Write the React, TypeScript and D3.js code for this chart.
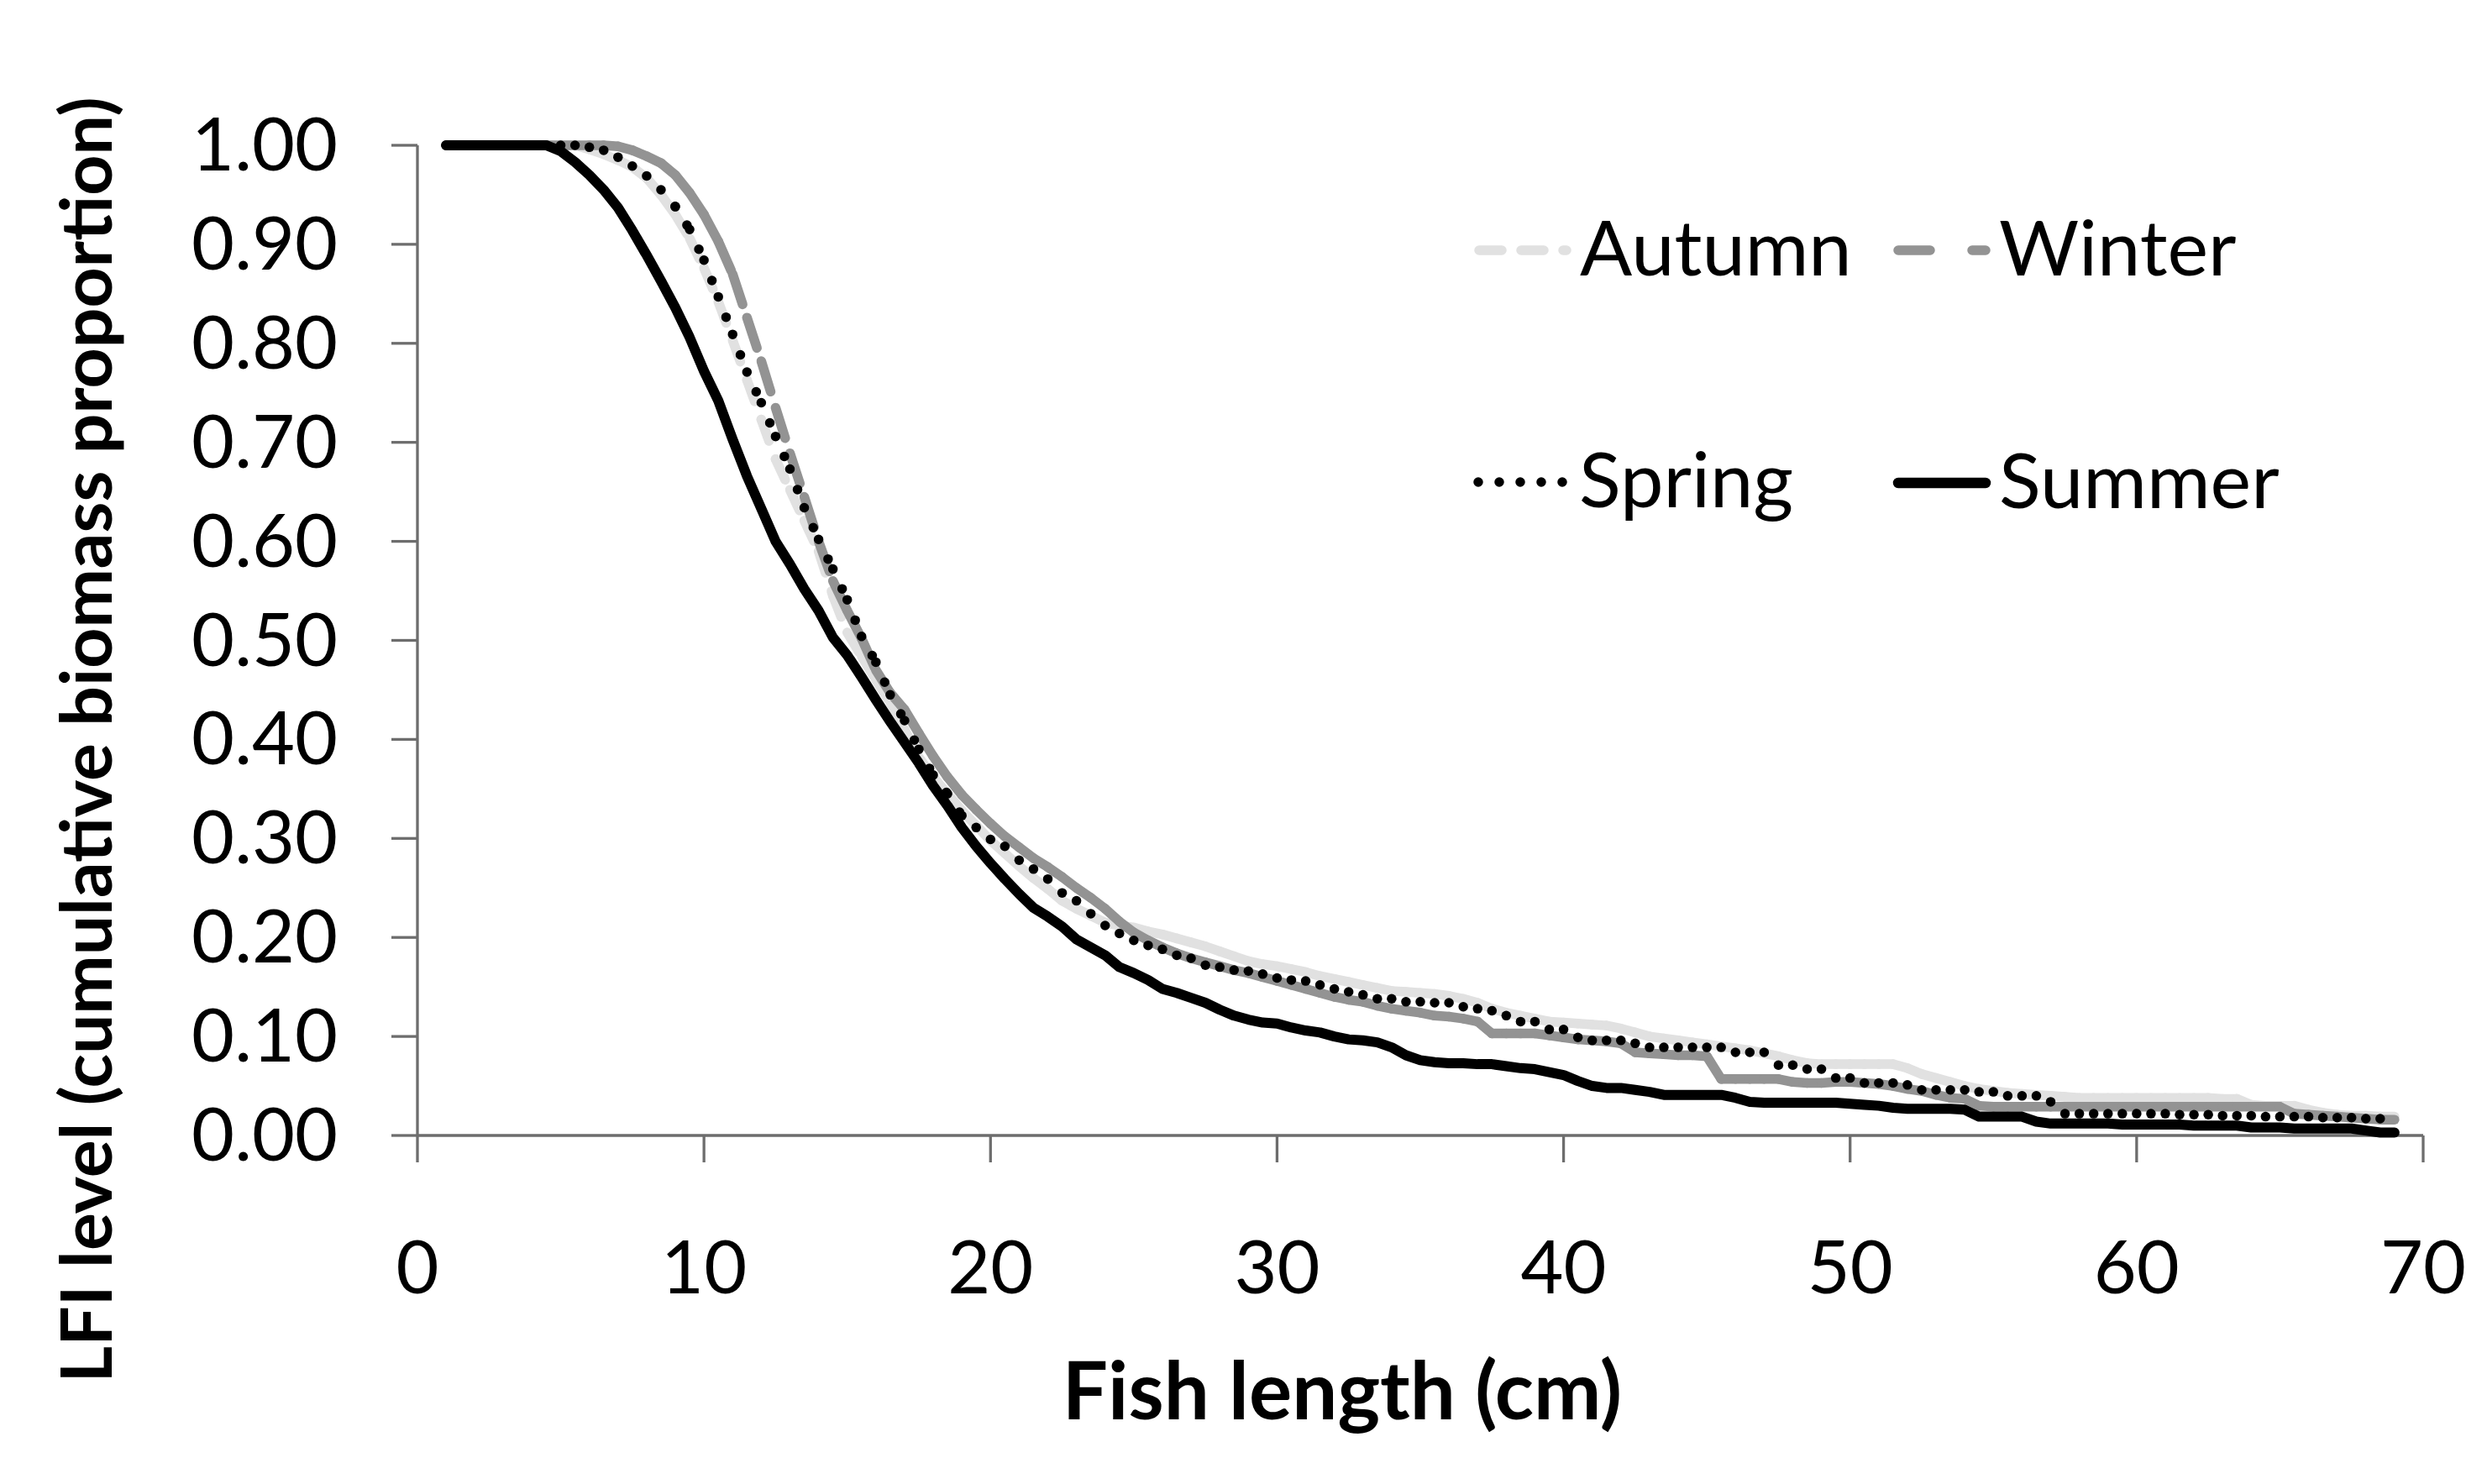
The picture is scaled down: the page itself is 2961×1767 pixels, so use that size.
import * as d3 from 'd3';
import React from 'react';

// fish length classes (cm), 0.5 cm steps from 1 to 69
const lengths = d3.range(1, 69.25, 0.5);

// cumulative biomass proportion per season, one value per length class
const autumn = [
  1, 1, 1, 1, 1, 1, 1, 1, 1, 1,
  0.996, 0.991, 0.985, 0.978, 0.967, 0.950, 0.930, 0.906, 0.876, 0.842,
  0.803, 0.763, 0.723, 0.683, 0.652, 0.621, 0.590, 0.545, 0.508, 0.484,
  0.460, 0.437, 0.410, 0.382, 0.362, 0.345, 0.328, 0.313, 0.298, 0.285,
  0.272, 0.260, 0.249, 0.237, 0.229, 0.222, 0.215, 0.212, 0.210, 0.206,
  0.203, 0.199, 0.195, 0.191, 0.186, 0.181, 0.176, 0.173, 0.171, 0.168,
  0.165, 0.161, 0.158, 0.155, 0.152, 0.149, 0.146, 0.145, 0.144, 0.143,
  0.141, 0.138, 0.134, 0.128, 0.124, 0.121, 0.118, 0.115, 0.114, 0.113,
  0.112, 0.111, 0.108, 0.104, 0.100, 0.098, 0.096, 0.094, 0.092, 0.090,
  0.088, 0.086, 0.083, 0.080, 0.076, 0.073, 0.072, 0.072, 0.072, 0.072,
  0.072, 0.072, 0.068, 0.062, 0.058, 0.054, 0.050, 0.047, 0.045, 0.043,
  0.042, 0.041, 0.040, 0.039, 0.038, 0.038, 0.038, 0.038, 0.038, 0.038,
  0.038, 0.038, 0.038, 0.038, 0.037, 0.037, 0.031, 0.030, 0.030, 0.030,
  0.026, 0.023, 0.021, 0.020, 0.020, 0.019, 0.019,
];

const winter = [
  1, 1, 1, 1, 1, 1, 1, 1, 1, 1,
  1, 1, 0.999, 0.995, 0.989, 0.982, 0.970, 0.952, 0.930, 0.903,
  0.870, 0.826, 0.782, 0.735, 0.689, 0.645, 0.600, 0.560, 0.530, 0.502,
  0.470, 0.447, 0.430, 0.406, 0.383, 0.362, 0.344, 0.329, 0.315, 0.302,
  0.291, 0.280, 0.271, 0.261, 0.250, 0.240, 0.229, 0.216, 0.205, 0.197,
  0.190, 0.184, 0.179, 0.175, 0.171, 0.167, 0.164, 0.160, 0.156, 0.152,
  0.148, 0.144, 0.140, 0.137, 0.135, 0.131, 0.128, 0.126, 0.124, 0.121,
  0.120, 0.118, 0.115, 0.103, 0.103, 0.103, 0.103, 0.101, 0.099, 0.097,
  0.096, 0.095, 0.093, 0.084, 0.083, 0.082, 0.081, 0.081, 0.080, 0.057,
  0.057, 0.057, 0.057, 0.057, 0.054, 0.053, 0.053, 0.054, 0.054, 0.053,
  0.052, 0.050, 0.047, 0.045, 0.041, 0.038, 0.037, 0.030, 0.029, 0.029,
  0.029, 0.029, 0.029, 0.029, 0.029, 0.029, 0.029, 0.029, 0.029, 0.029,
  0.029, 0.029, 0.029, 0.029, 0.029, 0.029, 0.029, 0.029, 0.029, 0.022,
  0.021, 0.020, 0.019, 0.018, 0.017, 0.016, 0.016,
];

const spring = [
  1, 1, 1, 1, 1, 1, 1, 1, 1, 1,
  0.998, 0.995, 0.988, 0.979, 0.969, 0.955, 0.938, 0.915, 0.884, 0.847,
  0.809, 0.771, 0.740, 0.706, 0.673, 0.634, 0.602, 0.572, 0.541, 0.504,
  0.478, 0.445, 0.419, 0.390, 0.364, 0.345, 0.323, 0.311, 0.299, 0.292,
  0.278, 0.269, 0.259, 0.245, 0.237, 0.224, 0.212, 0.204, 0.197, 0.192,
  0.188, 0.182, 0.179, 0.172, 0.170, 0.167, 0.166, 0.163, 0.159, 0.157,
  0.156, 0.152, 0.148, 0.145, 0.142, 0.138, 0.138, 0.135, 0.135, 0.134,
  0.134, 0.130, 0.128, 0.126, 0.121, 0.115, 0.115, 0.107, 0.107, 0.099,
  0.096, 0.096, 0.096, 0.093, 0.089, 0.089, 0.089, 0.089, 0.089, 0.089,
  0.084, 0.084, 0.084, 0.071, 0.071, 0.067, 0.067, 0.058, 0.058, 0.053,
  0.053, 0.053, 0.051, 0.046, 0.046, 0.046, 0.046, 0.044, 0.044, 0.040,
  0.040, 0.040, 0.034, 0.022, 0.022, 0.022, 0.022, 0.022, 0.022, 0.022,
  0.022, 0.021, 0.021, 0.021, 0.020, 0.020, 0.020, 0.019, 0.019, 0.019,
  0.019, 0.018, 0.018, 0.018, 0.017, 0.017, 0.017,
];

const summer = [
  1, 1, 1, 1, 1, 1, 1, 1, 0.994, 0.983,
  0.970, 0.955, 0.937, 0.914, 0.889, 0.863, 0.836, 0.806, 0.772, 0.742,
  0.703, 0.666, 0.633, 0.600, 0.577, 0.552, 0.530, 0.503, 0.485, 0.463,
  0.440, 0.418, 0.397, 0.376, 0.353, 0.333, 0.311, 0.292, 0.275, 0.259,
  0.244, 0.230, 0.221, 0.211, 0.198, 0.190, 0.182, 0.170, 0.164, 0.157,
  0.148, 0.144, 0.139, 0.134, 0.127, 0.121, 0.117, 0.114, 0.113, 0.109,
  0.106, 0.104, 0.100, 0.097, 0.096, 0.094, 0.089, 0.081, 0.076, 0.074,
  0.073, 0.073, 0.072, 0.072, 0.070, 0.068, 0.067, 0.064, 0.061, 0.055,
  0.050, 0.048, 0.048, 0.046, 0.044, 0.041, 0.041, 0.041, 0.041, 0.041,
  0.038, 0.034, 0.033, 0.033, 0.033, 0.033, 0.033, 0.033, 0.032, 0.031,
  0.030, 0.028, 0.027, 0.027, 0.027, 0.027, 0.026, 0.019, 0.019, 0.019,
  0.019, 0.014, 0.012, 0.012, 0.012, 0.012, 0.012, 0.011, 0.011, 0.011,
  0.011, 0.011, 0.010, 0.010, 0.010, 0.010, 0.008, 0.008, 0.008, 0.007,
  0.007, 0.007, 0.007, 0.007, 0.005, 0.003, 0.003,
];

const xTicks = [0, 10, 20, 30, 40, 50, 60, 70];
const yTicks = [0, 0.1, 0.2, 0.3, 0.4, 0.5, 0.6, 0.7, 0.8, 0.9, 1.0];

const AXIS = '#6d6d6d';
const FONT = 'Lato, "Open Sans", sans-serif';

const x = d3.scaleLinear().domain([0, 70]).range([497, 2885]);
const y = d3.scaleLinear().domain([0, 1]).range([1352, 173]);
const fmt = d3.format('.2f');

// Excel restarts the dash pattern on every segment, so draw them one by one
const DashedSeries = ({ values, color, dash, width }) => (
  <g>
    {lengths.slice(1).map((l, i) => (
      <line
        key={i}
        x1={x(lengths[i])}
        y1={y(values[i])}
        x2={x(l)}
        y2={y(values[i + 1])}
        stroke={color}
        strokeWidth={width}
        strokeDasharray={dash}
        strokeLinecap="round"
      />
    ))}
  </g>
);

const App = () => {
  const line = d3
    .line<number>()
    .x((_, i) => x(lengths[i]))
    .y((d) => y(d));

  const legend = [
    { name: 'Autumn', color: '#e1e1e1', dash: '27 23', lx: 1761, ly: 298, w: 11.5 },
    { name: 'Winter', color: '#939393', dash: '38 50', lx: 2260, ly: 298, w: 11.5 },
    { name: 'Spring', color: '#000', dash: '0 25', lx: 1760, ly: 574, w: 11.5 },
    { name: 'Summer', color: '#000', dash: null, lx: 2260, ly: 575, w: 12.5 },
  ];

  return (
    <svg
      width={2961}
      height={1767}
      style={{ position: 'absolute', left: 0, top: 0, background: '#fff' }}
      fontFamily={FONT}
    >
      {/* axes */}
      <g stroke={AXIS} strokeWidth={3.3}>
        <line x1={x(0)} x2={x(70)} y1={y(0)} y2={y(0)} />
        <line x1={x(0)} x2={x(0)} y1={y(0)} y2={y(1)} />
        {yTicks.map((t) => (
          <line key={t} x1={x(0) - 31} x2={x(0)} y1={y(t)} y2={y(t)} />
        ))}
        {xTicks.map((t) => (
          <line key={t} x1={x(t)} x2={x(t)} y1={y(0)} y2={y(0) + 32} />
        ))}
      </g>

      <g fontSize={88} fill="#000">
        {yTicks.map((t) => (
          <text key={t} x={402} y={y(t) + 30} textAnchor="end">
            {fmt(t)}
          </text>
        ))}
        {xTicks.map((t) => (
          <text key={t} x={x(t)} y={1540} textAnchor="middle">
            {t}
          </text>
        ))}
      </g>

      {/* series, in legend order */}
      <DashedSeries values={autumn} color="#e1e1e1" dash="27 23" width={11.5} />
      <DashedSeries values={winter} color="#939393" dash="38 50" width={11.5} />
      <DashedSeries values={spring} color="#000" dash="0 26" width={11.5} />
      <path
        d={line(summer)}
        fill="none"
        stroke="#000"
        strokeWidth={12}
        strokeLinejoin="round"
        strokeLinecap="round"
      />

      {/* legend */}
      {legend.map((s) => (
        <g key={s.name}>
          <line
            x1={s.lx}
            x2={s.lx + 104}
            y1={s.ly}
            y2={s.ly}
            stroke={s.color}
            strokeWidth={s.w}
            strokeDasharray={s.dash ?? undefined}
            strokeLinecap="round"
          />
          <text x={s.lx + 120} y={s.ly + 30} fontSize={92}>
            {s.name}
          </text>
        </g>
      ))}

      {/* titles */}
      <text x={1598} y={1690} textAnchor="middle" fontSize={96} fontWeight="bold">
        Fish length (cm)
      </text>
      <text
        transform="translate(133,881) rotate(-90)"
        textAnchor="middle"
        fontSize={84}
        fontWeight="bold"
      >
        LFI level (cumulative biomass proportion)
      </text>
    </svg>
  );
};

export default App;
